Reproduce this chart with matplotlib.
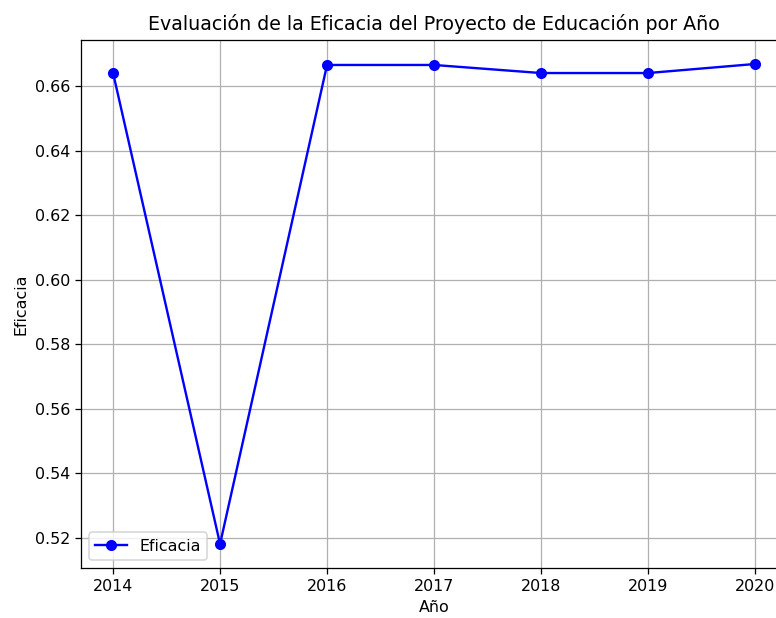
import matplotlib
matplotlib.use("Agg")
import matplotlib.pyplot as plt

years = [2014, 2015, 2016, 2017, 2018, 2019, 2020]
eficacia = [0.6640, 0.5181, 0.6665, 0.6665, 0.6640, 0.6640, 0.6668]

DPI = 114
W, H = 776, 618
fig = plt.figure(figsize=(W / DPI, H / DPI), dpi=DPI)
left, right, top, bottom = 81, 787, 40, 568
ax = fig.add_axes([left / W, 1 - bottom / H, (right - left) / W, (bottom - top) / H])
ax.plot(years, eficacia, marker='o', color='blue', label='Eficacia')
ax.set_title('Evaluación de la Eficacia del Proyecto de Educación por Año')
ax.set_xlabel('Año')
ax.set_ylabel('Eficacia')
ax.grid(True)
ax.legend(loc='lower left')
fig.savefig('out.png', dpi=DPI)
